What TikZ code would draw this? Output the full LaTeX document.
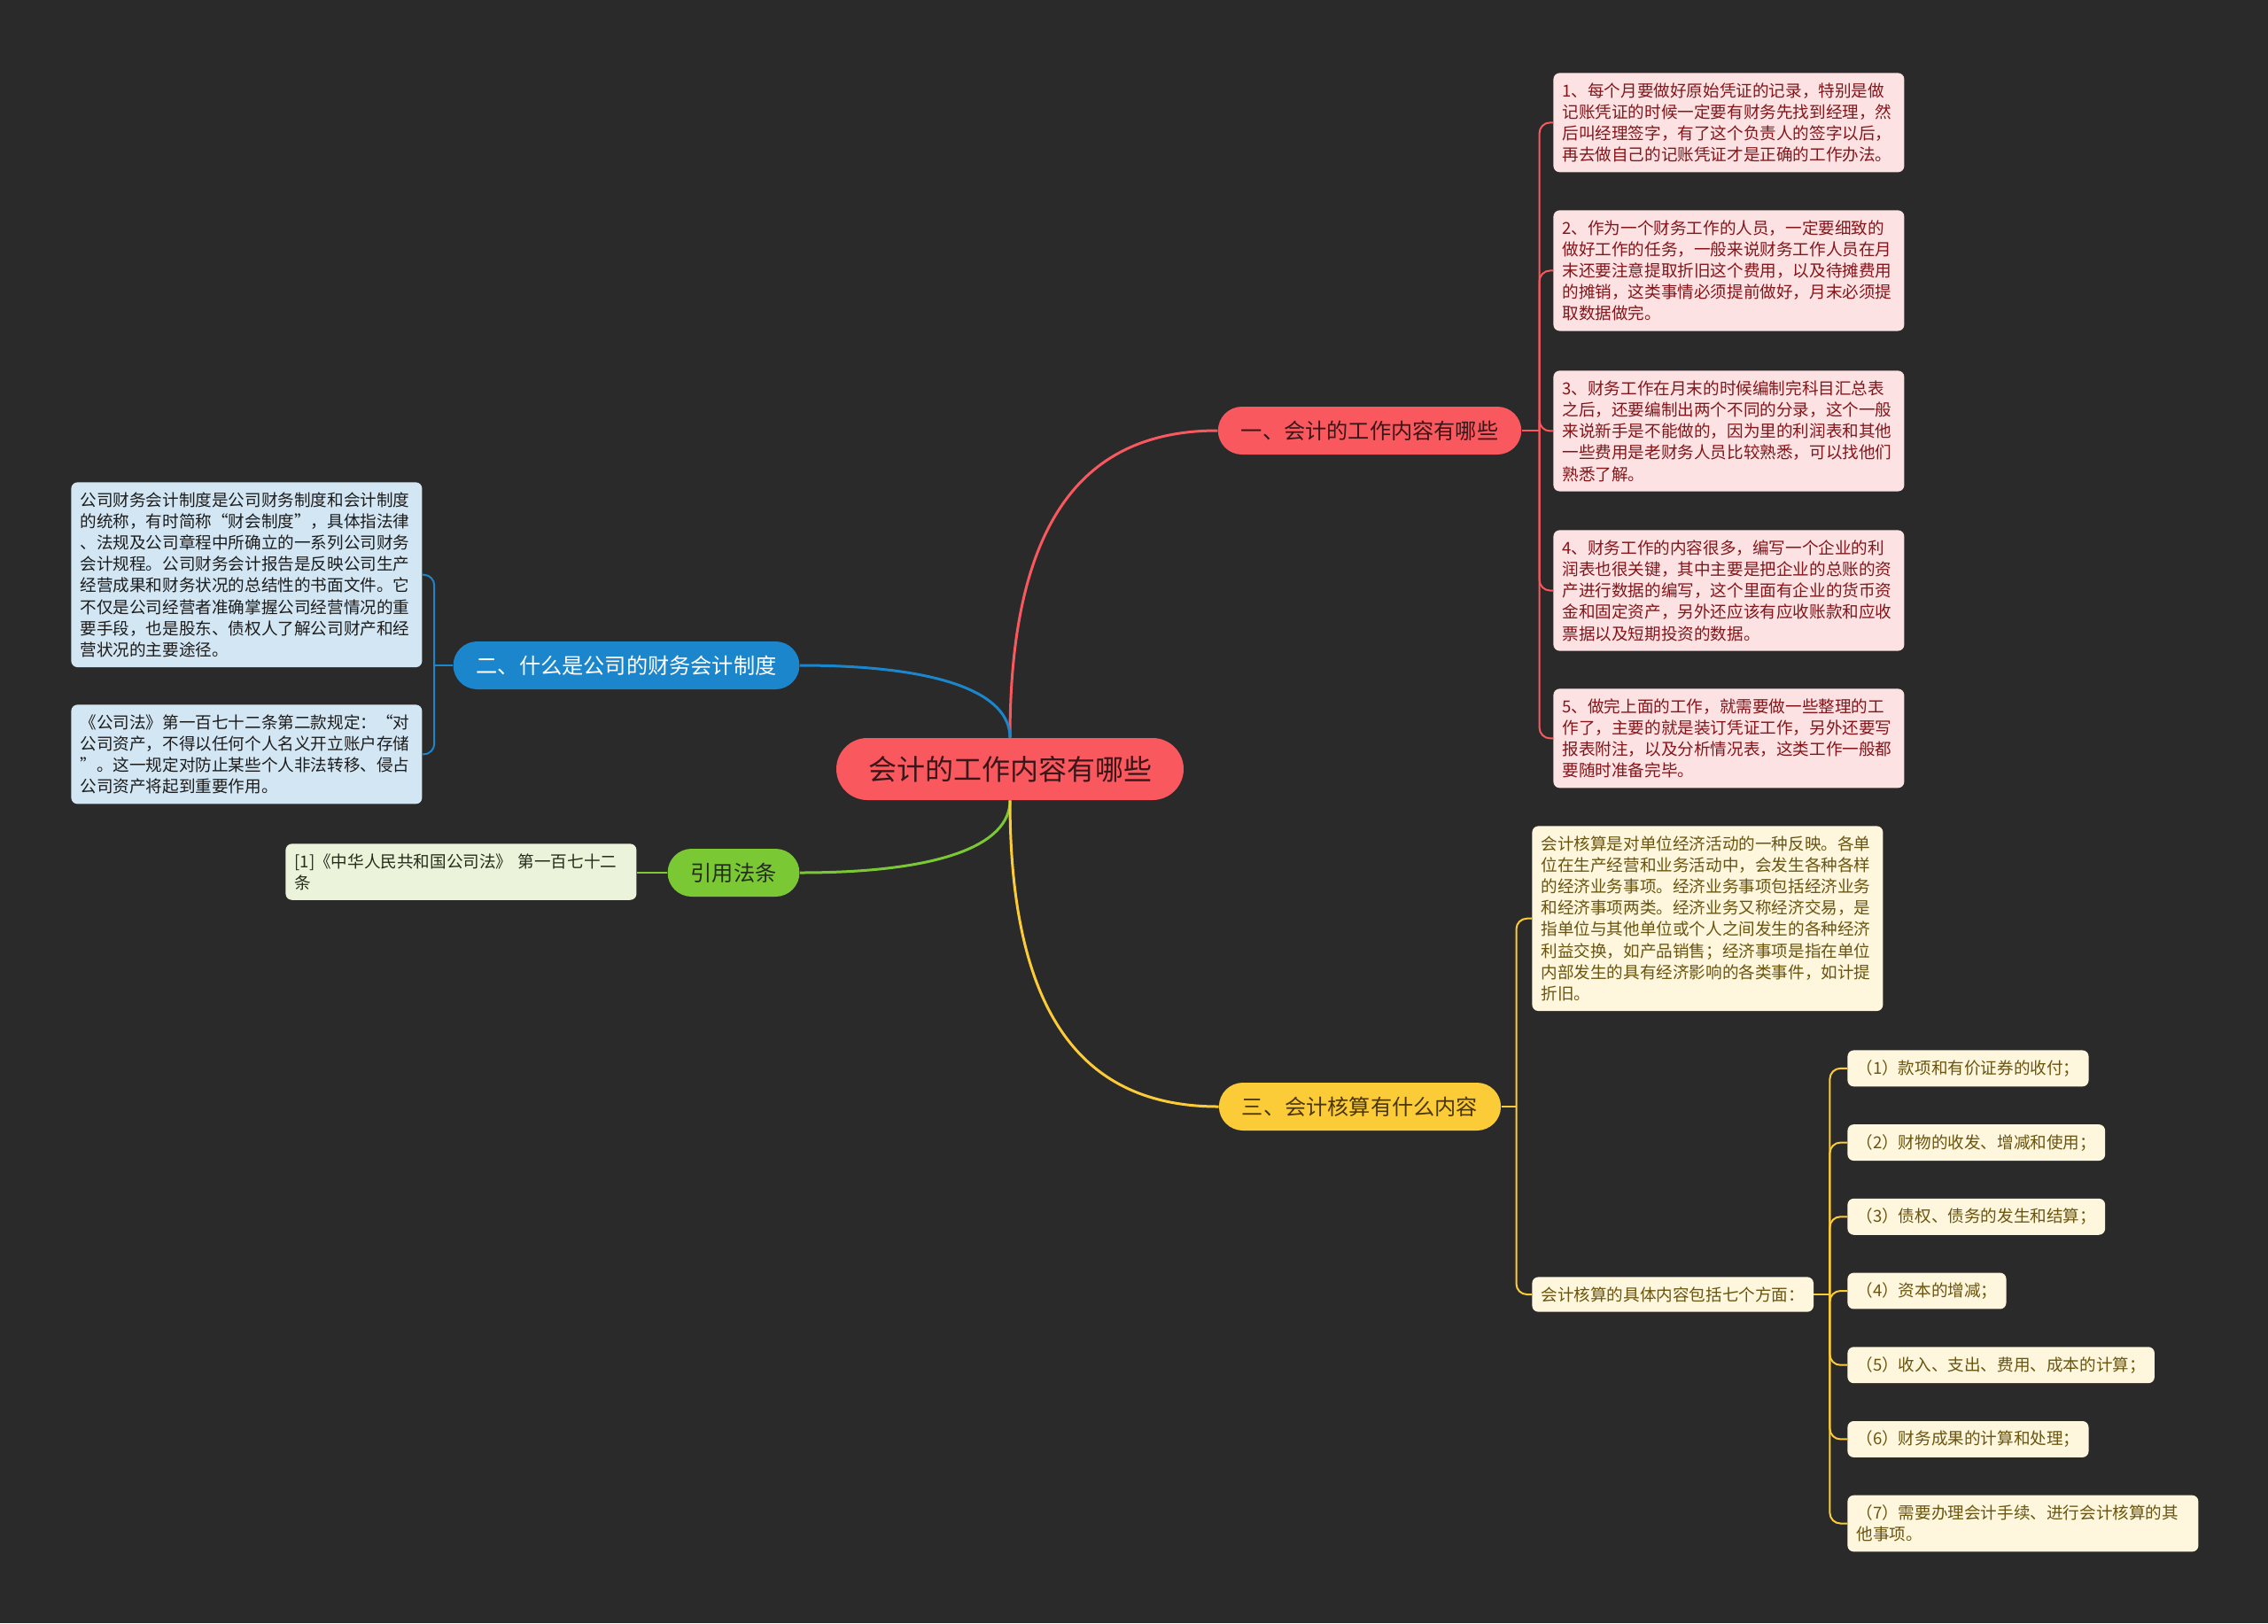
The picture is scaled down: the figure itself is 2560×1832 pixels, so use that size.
\documentclass[tikz,border=0pt]{standalone}
\usepackage{fontspec}
\setmainfont{Noto Sans CJK SC}
\usepackage{tikz}
\usetikzlibrary{positioning}
\usepackage{xcolor}
\definecolor{bgdark}{RGB}{42,42,42}
\definecolor{rootred}{RGB}{248,88,94}
\definecolor{rootink}{RGB}{58,22,24}
\definecolor{topicblue}{RGB}{27,134,204}
\definecolor{topicgreen}{RGB}{122,201,52}
\definecolor{topicyellow}{RGB}{252,204,56}
\definecolor{leafred}{RGB}{253,226,228}
\definecolor{leafblue}{RGB}{211,230,243}
\definecolor{leafgreen}{RGB}{235,244,218}
\definecolor{leafyellow}{RGB}{254,246,221}
\definecolor{redink}{RGB}{130,22,26}
\definecolor{blueink}{RGB}{28,28,28}
\definecolor{greenink}{RGB}{36,44,28}
\definecolor{yellowink}{RGB}{105,85,15}
\definecolor{topicyink}{RGB}{75,55,5}

\begin{document}
\begin{tikzpicture}[x=0.5pt,y=-0.5pt,
  root/.style={fill=rootred,text=rootink,rounded corners=17.5pt,minimum height=35pt,inner xsep=18pt,font=\fontsize{16}{19}\selectfont},
  topic/.style={rounded corners=13.5pt,minimum height=27pt,inner xsep=13pt,font=\fontsize{12.1}{14}\selectfont},
  leaf/.style={rounded corners=3.5pt,text width=188pt,inner xsep=5pt,inner ysep=5.5pt,align=left,anchor=north west,font=\fontsize{9.3}{12.1}\selectfont},
  item/.style={fill=leafyellow,text=yellowink,rounded corners=3.5pt,inner xsep=5pt,inner ysep=5.5pt,font=\fontsize{9.3}{12.1}\selectfont},
  link/.style={line width=1.5pt},
  twig/.style={line width=1pt,rounded corners=6pt}
]
  \fill[bgdark] (0,0) rectangle (2560,1832);

  \node[root] (root) at (1140,868) {会计的工作内容有哪些};

  \node[topic,fill=rootred,text=rootink] (work) at (1546,486) {一、会计的工作内容有哪些};
  \node[topic,fill=topicblue,text=white] (system) at (707,751) {二、什么是公司的财务会计制度};
  \node[topic,fill=topicgreen,text=greenink] (law) at (828,985) {引用法条};
  \node[topic,fill=topicyellow,text=topicyink] (calc) at (1535,1249) {三、会计核算有什么内容};

  \draw[link,rootred] (root.north) .. controls +(0,-260) and +(-140,0) .. (work.west);
  \draw[link,topicblue] (root.north) .. controls +(0,-50) and +(160,0) .. (system.east);
  \draw[link,topicgreen] (root.south) .. controls +(0,50) and +(160,0) .. (law.east);
  \draw[link,topicyellow] (root.south) .. controls +(0,260) and +(-140,0) .. (calc.west);

  % work
  \node[leaf,fill=leafred,text=redink] (w1) at (1753,82) {1、每个月要做好原始凭证的记录，特别是做\\记账凭证的时候一定要有财务先找到经理，然\\后叫经理签字，有了这个负责人的签字以后，\\再去做自己的记账凭证才是正确的工作办法。};
  \node[leaf,fill=leafred,text=redink] (w2) at (1753,237) {2、作为一个财务工作的人员，一定要细致的\\做好工作的任务，一般来说财务工作人员在月\\末还要注意提取折旧这个费用，以及待摊费用\\的摊销，这类事情必须提前做好，月末必须提\\取数据做完。};
  \node[leaf,fill=leafred,text=redink] (w3) at (1753,418) {3、财务工作在月末的时候编制完科目汇总表\\之后，还要编制出两个不同的分录，这个一般\\来说新手是不能做的，因为里的利润表和其他\\一些费用是老财务人员比较熟悉，可以找他们\\熟悉了解。};
  \node[leaf,fill=leafred,text=redink] (w4) at (1753,598) {4、财务工作的内容很多，编写一个企业的利\\润表也很关键，其中主要是把企业的总账的资\\产进行数据的编写，这个里面有企业的货币资\\金和固定资产，另外还应该有应收账款和应收\\票据以及短期投资的数据。};
  \node[leaf,fill=leafred,text=redink] (w5) at (1753,777) {5、做完上面的工作，就需要做一些整理的工\\作了，主要的就是装订凭证工作，另外还要写\\报表附注，以及分析情况表，这类工作一般都\\要随时准备完毕。};

  \draw[twig,rootred] (work.east) -- ++(20,0) coordinate (wfork);
  \draw[twig,rootred] (wfork) |- (w1.west);
  \draw[twig,rootred] (wfork) |- (w2.west);
  \draw[twig,rootred] (wfork) |- (w3.west);
  \draw[twig,rootred] (wfork) |- (w4.west);
  \draw[twig,rootred] (wfork) |- (w5.west);

  % system
  \node[leaf,fill=leafblue,text=blueink] (s1) at (80,544) {公司财务会计制度是公司财务制度和会计制度\\的统称，有时简称“财会制度”，具体指法律\\、法规及公司章程中所确立的一系列公司财务\\会计规程。公司财务会计报告是反映公司生产\\经营成果和财务状况的总结性的书面文件。它\\不仅是公司经营者准确掌握公司经营情况的重\\要手段，也是股东、债权人了解公司财产和经\\营状况的主要途径。};
  \node[leaf,fill=leafblue,text=blueink] (s2) at (80,795) {《公司法》第一百七十二条第二款规定：“对\\公司资产，不得以任何个人名义开立账户存储\\”。这一规定对防止某些个人非法转移、侵占\\公司资产将起到重要作用。};

  \draw[twig,topicblue] (system.west) -- ++(-21,0) coordinate (sfork);
  \draw[twig,topicblue] (sfork) |- (s1.east);
  \draw[twig,topicblue] (sfork) |- (s2.east);

  % law
  \node[leaf,fill=leafgreen,text=greenink] (l1) at (322,952) {[1]《中华人民共和国公司法》 第一百七十二\\条};
  \draw[twig,topicgreen] (law.west) -- (l1.east |- law.west);

  % calc
  \node[leaf,fill=leafyellow,text=yellowink] (c1) at (1729,932) {会计核算是对单位经济活动的一种反映。各单\\位在生产经营和业务活动中，会发生各种各样\\的经济业务事项。经济业务事项包括经济业务\\和经济事项两类。经济业务又称经济交易，是\\指单位与其他单位或个人之间发生的各种经济\\利益交换，如产品销售；经济事项是指在单位\\内部发生的具有经济影响的各类事件，如计提\\折旧。};
  \node[item,anchor=west] (c2) at (1729,1461) {会计核算的具体内容包括七个方面：};

  \draw[twig,topicyellow] (calc.east) -- ++(17,0) coordinate (cfork);
  \draw[twig,topicyellow] (cfork) |- (c1.west);
  \draw[twig,topicyellow] (cfork) |- (c2.west);

  \node[item,anchor=north west] (k1) at (2085,1185) {（1）款项和有价证券的收付；};
  \node[item,below=21pt of k1.south west,anchor=north west] (k2) {（2）财物的收发、增减和使用；};
  \node[item,below=21pt of k2.south west,anchor=north west] (k3) {（3）债权、债务的发生和结算；};
  \node[item,below=21pt of k3.south west,anchor=north west] (k4) {（4）资本的增减；};
  \node[item,below=21pt of k4.south west,anchor=north west] (k5) {（5）收入、支出、费用、成本的计算；};
  \node[item,below=21pt of k5.south west,anchor=north west] (k6) {（6）财务成果的计算和处理；};
  \node[leaf,fill=leafyellow,text=yellowink,below=21pt of k6.south west,anchor=north west] (k7) {（7）需要办理会计手续、进行会计核算的其\\他事项。};

  \draw[twig,topicyellow] (c2.east) -- ++(18,0) coordinate (kfork);
  \draw[twig,topicyellow] (kfork) |- (k1.west);
  \draw[twig,topicyellow] (kfork) |- (k2.west);
  \draw[twig,topicyellow] (kfork) |- (k3.west);
  \draw[twig,topicyellow] (kfork) |- (k4.west);
  \draw[twig,topicyellow] (kfork) |- (k5.west);
  \draw[twig,topicyellow] (kfork) |- (k6.west);
  \draw[twig,topicyellow] (kfork) |- (k7.west);
\end{tikzpicture}
\end{document}
